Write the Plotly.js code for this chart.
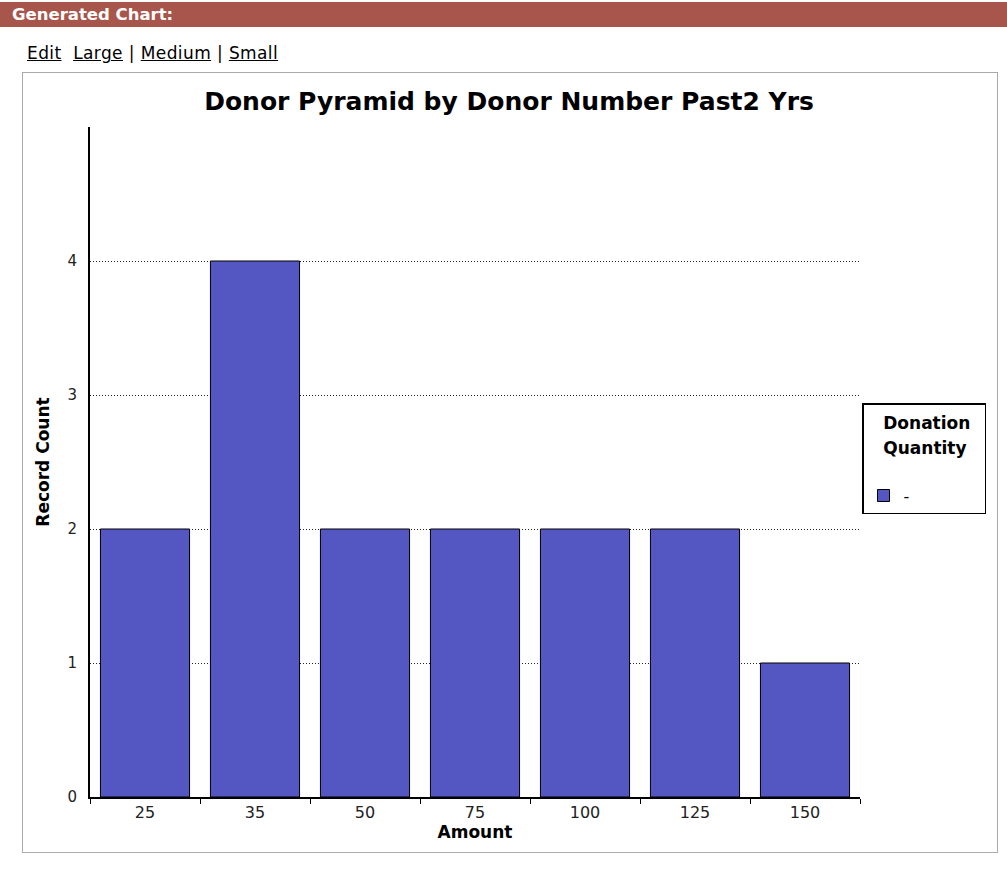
<!DOCTYPE html>
<html><head><meta charset="utf-8">
<script src="https://cdn.plot.ly/plotly-3.0.1.min.js"></script>
<style>
html,body{margin:0;padding:0;background:#fff;width:1007px;height:872px;overflow:hidden;font-family:"Liberation Sans",Arial,sans-serif;}
#hdr{position:absolute;left:0;top:2px;width:1007px;height:25px;background:#a8554b;color:#fff;font:bold 16.5px "DejaVu Sans",sans-serif;line-height:25px;padding-left:12px;box-sizing:border-box;}
#links{position:absolute;left:27px;top:43px;font:17px "DejaVu Sans",sans-serif;letter-spacing:0.4px;color:#000;}
#links a{color:#000;text-decoration:underline;}
#frame{position:absolute;left:22px;top:72px;width:974px;height:779px;border:1px solid #aaa;}
#chart{position:absolute;left:0;top:0;width:1007px;height:872px;}
</style></head>
<body>
<div id="hdr">Generated Chart:</div>
<div id="links"><a>Edit</a>&nbsp; <a>Large</a> | <a>Medium</a> | <a>Small</a></div>
<div id="frame"></div>
<div id="chart"></div>
<script>
const categories = ["25","35","50","75","100","125","150"];
const counts = [2,4,2,2,2,2,1];
const seriesName = "-";
const yTicks = [0,1,2,3,4];

const trace = {
  type:'bar', x:categories, y:counts, name:seriesName, showlegend:true,
  marker:{color:'#5457c1', line:{color:'#000', width:1}}
};
const layout = {
  width:1007, height:872,
  margin:{l:90, r:147, t:127, b:75, autoexpand:false},
  paper_bgcolor:'rgba(0,0,0,0)', plot_bgcolor:'rgba(0,0,0,0)',
  bargap:0.19,
  title:{text:'Donor Pyramid by Donor Number Past2 Yrs', xref:'container', x:0.5055, xanchor:'center', yref:'container', y:1-101/872, yanchor:'middle',
    font:{family:'DejaVu Sans', size:25, color:'#000', weight:'bold'}},
  xaxis:{type:'category', showline:true, linecolor:'#000', linewidth:1.5, ticks:'outside', tickson:'boundaries', ticklen:5, tickcolor:'#000',
    tickfont:{family:'DejaVu Sans', size:16, color:'#222'}, showgrid:false,
    title:{text:'Amount', font:{family:'DejaVu Sans', size:17, color:'#000', weight:'bold'}, standoff:4}},
  yaxis:{range:[0,5], tickvals:yTicks, ticktext:yTicks.map(String), showline:true, linecolor:'#000', linewidth:2, ticks:'', 
    tickfont:{family:'DejaVu Sans', size:15, color:'#222'}, ticklabelstandoff:8,
    showgrid:true, gridcolor:'#222', griddash:'1px,2px', gridwidth:1, zeroline:false,
    title:{text:'Record Count', font:{family:'DejaVu Sans', size:17, color:'#000', weight:'bold'}, standoff:14}},
  showlegend:true,
  legend:{x:(862-90)/770, xanchor:'left', y:(797-403)/670, yanchor:'top', bordercolor:'#000', borderwidth:1.5, bgcolor:'#fff',
    title:{text:'<span style="font-size:17px">&nbsp;&nbsp;&nbsp;Donation&nbsp;&nbsp;</span><br><span style="font-size:17px">&nbsp;&nbsp;&nbsp;Quantity</span><br> ', font:{family:'DejaVu Sans', size:19, color:'#000', weight:'bold'}},
    font:{family:'DejaVu Sans', size:16, color:'#000'}, tracegroupgap:0}
};
Plotly.newPlot('chart',[trace],layout,{displayModeBar:false});
</script>
</body></html>
